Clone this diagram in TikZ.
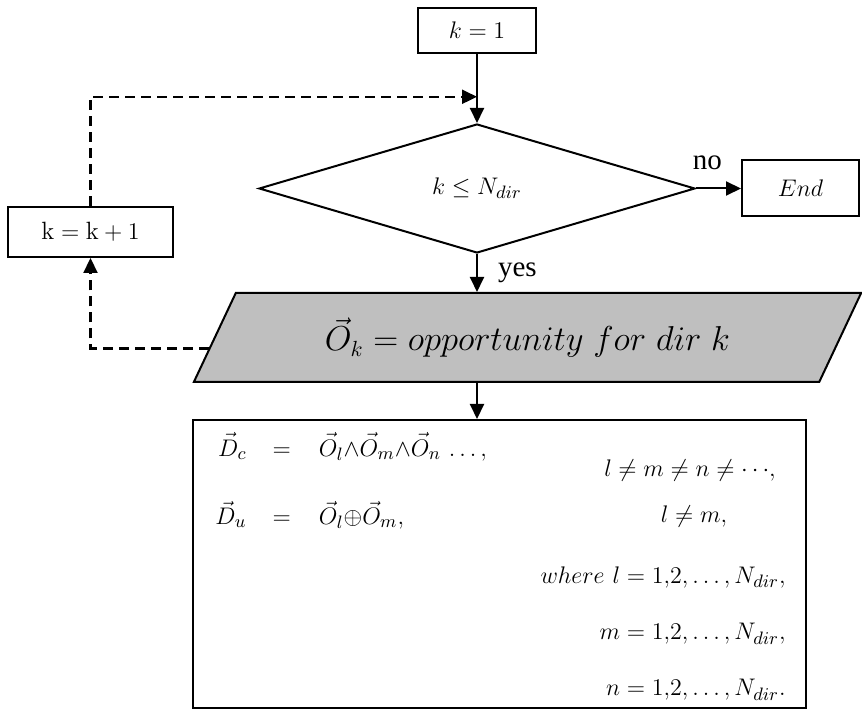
\documentclass[tikz,border=0pt]{standalone}
\usepackage{amsmath}
\usepackage{amssymb}
\usepackage{fontspec}
\newfontfamily\lblfont{Liberation Serif}
\usetikzlibrary{positioning, arrows.meta, shapes.geometric, calc}

\begin{document}
\begin{tikzpicture}[
        x=0.5pt, y=-0.5pt,
        box/.style = {draw, line width=1pt, inner sep=0pt, align=center, font=\fontsize{12.5}{15}\selectfont},
        decide/.style = {diamond, draw, line width=1pt, aspect=3.4, inner sep=0pt, minimum width=218pt, minimum height=64.5pt, font=\fontsize{12.5}{15}\selectfont},
        ioshape/.style = {trapezium, trapezium left angle=54, trapezium right angle=126, trapezium stretches=true, draw, line width=1pt, fill=black!25, inner sep=0pt, minimum width=334.5pt, minimum height=44.5pt, font=\fontsize{16.3}{19}\selectfont},
        eq/.style = {inner sep=0pt, font=\fontsize{12.5}{15}\selectfont},
        lbl/.style = {inner sep=1pt, font=\lblfont\fontsize{14.5}{17}\selectfont},
        arrow/.style = {-{Triangle[length=7.5pt, width=7pt]}, line width=1pt},
        dasharrow/.style = {arrow, line width=1.1pt, dash pattern=on 5pt off 3pt},
    ]
        \useasboundingbox (0,0) rectangle (862,716);
        \node[box, minimum width=59pt, minimum height=22.5pt] (start) at (477,30.5) {$k = 1$};
        \node[decide] (dec) at (477,188.5) {$k \leq N_{dir}$};
        \node[box, right=22.5pt of dec, minimum width=58.5pt, minimum height=28pt] (end) {$End$};
        \node[box, minimum width=82.5pt, minimum height=25pt] (kinc) at (90.5,232) {$\mathrm{k} = \mathrm{k} + 1$};
        \node[ioshape] (par) at (527.5,337.5) {$\vec{O}_k = opportunity\ for\ dir\ k$};
        \node[box, minimum width=306.5pt, minimum height=144pt] (res) at (499.5,564) {};
        % equations inside the result box
        \node[eq, anchor=west] (defs) at (215,483) {$\begin{array}{@{}r@{\hspace{13pt}}c@{\hspace{14pt}}l@{}}
            \vec{D}_c & = & \vec{O}_l{\wedge}\vec{O}_m{\wedge}\vec{O}_n\,\ldots, \\[18pt]
            \vec{D}_u & = & \vec{O}_l{\oplus}\vec{O}_m,
            \end{array}$};
        \node[eq] (neqa) at (690,470) {$l \neq m \neq n \neq {\cdots},$};
        \node[eq] (neqb) at (694,517) {$l \neq m,$};
        \node[eq, anchor=east] (rngl) at (786,577) {$where\ l = 1{,}2, \ldots, N_{dir},$};
        \node[eq, anchor=east] (rngm) at (786,634) {$m = 1{,}2, \ldots, N_{dir},$};
        \node[eq, anchor=east] (rngn) at (786,690) {$n = 1{,}2, \ldots, N_{dir}.$};
        % connectors
        \coordinate (join) at ($(start.south)!0.62!(dec.north)$);
        \coordinate (parleft) at ($(par.bottom left corner)!0.38!(par.top left corner)$);
        \draw[arrow] (start) -- (dec);
        \draw[arrow] (dec) -- node[lbl, above=8pt, pos=0.25] (nolbl) {no} (end);
        \draw[arrow] (dec.south) -- node[lbl, right=9pt] (yeslbl) {yes} (dec.south |- par.north);
        \draw[arrow] (dec.south |- par.south) -- (dec.south |- res.north);
        \draw[dasharrow] (parleft) -| (kinc.south);
        \draw[dasharrow] (kinc.north) |- (join);
    \end{tikzpicture}
\end{document}
